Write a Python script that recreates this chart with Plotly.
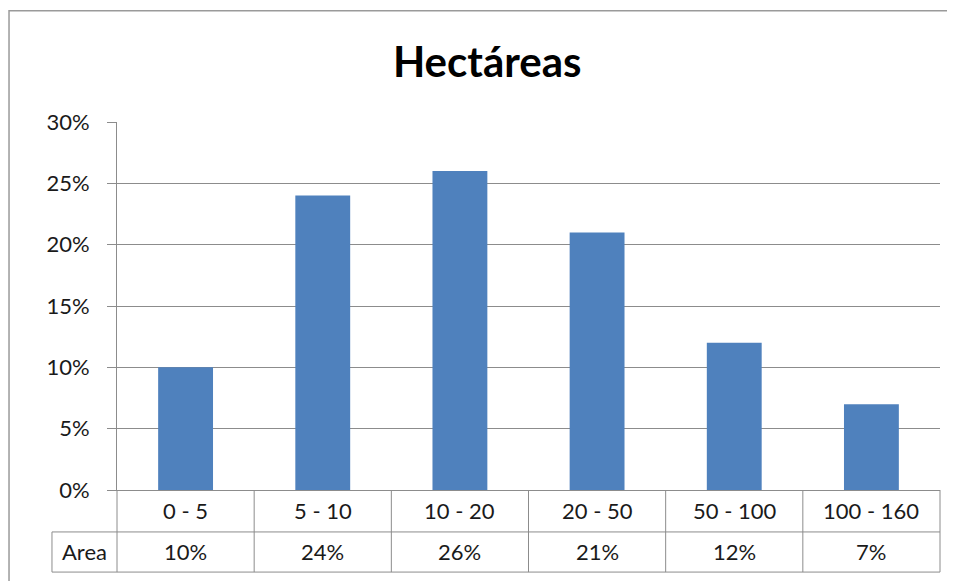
import plotly.graph_objects as go

# data
categories = ["0 - 5", "5 - 10", "10 - 20", "20 - 50", "50 - 100", "100 - 160"]
area = [0.10, 0.24, 0.26, 0.21, 0.12, 0.07]
row_label = "Area"
title = "Hectáreas"

FONT = "Lato"
GRID = "#8c8c8c"
BAR = "#4f81bd"
TXT = "#1a1a1a"

fig = go.Figure(go.Bar(x=categories, y=area, marker_color=BAR,
                       marker_line_width=0, width=0.4))

# table geometry in paper units (plot area is 823 x 368 px)
row1 = -0.114
row2 = -0.223
left_cell = -0.079
n = len(categories)

shapes = []
# column separators of the data table
for i in range(n + 1):
    shapes.append(dict(type="line", xref="paper", yref="paper",
                       x0=i / n, x1=i / n, y0=0, y1=row2,
                       line=dict(color=GRID, width=1)))
for y in (row1, row2):
    shapes.append(dict(type="line", xref="paper", yref="paper",
                       x0=left_cell, x1=1, y0=y, y1=y,
                       line=dict(color=GRID, width=1)))
shapes.append(dict(type="line", xref="paper", yref="paper",
                   x0=left_cell, x1=left_cell, y0=row1, y1=row2,
                   line=dict(color=GRID, width=1)))
# outer chart border (cut off at right and bottom)
shapes.append(dict(type="rect", xref="paper", yref="paper",
                   x0=-0.1312, x1=1.2, y0=1.302, y1=-0.5,
                   line=dict(color="#9a9a9a", width=1.5)))

cell_font = dict(family=FONT, size=22, color=TXT)
annotations = []
for cat, val in zip(categories, area):
    annotations.append(dict(x=cat, xref="x", y=-0.057, yref="paper",
                            xanchor="center", yanchor="middle",
                            text=cat, showarrow=False, font=cell_font))
    annotations.append(dict(x=cat, xref="x", y=-0.168, yref="paper",
                            xanchor="center", yanchor="middle",
                            text=f"{round(val * 100)}%", showarrow=False,
                            font=cell_font))
annotations.append(dict(x=left_cell / 2, xref="paper", y=-0.168, yref="paper",
                        xanchor="center", yanchor="middle",
                        text=row_label, showarrow=False, font=cell_font))

# page body has an 8px margin, so the figure is sized to fit the window
fig.update_layout(
    width=947, height=573,
    margin=dict(l=109, r=15, t=114, b=91),
    paper_bgcolor="white", plot_bgcolor="white",
    title=dict(text=f"<b>{title}</b>", x=0.506, xref="container",
               xanchor="center", y=0.906, yref="container", yanchor="middle",
               font=dict(family=FONT, size=42, color="black")),
    font=dict(family=FONT, size=22, color=TXT),
    showlegend=False,
    shapes=shapes,
    annotations=annotations,
)
fig.update_xaxes(range=[-0.5, n - 0.5], showticklabels=False, showgrid=False,
                 showline=True, linecolor=GRID, linewidth=1, ticks="")
fig.update_yaxes(range=[0, 0.30], dtick=0.05, tickformat=".0%",
                 showgrid=True, gridcolor=GRID, gridwidth=1,
                 showline=True, linecolor=GRID, linewidth=1,
                 ticks="outside", ticklen=9, tickcolor=GRID,
                 ticklabelstandoff=13, zeroline=False)

fig.write_html("out.html")
